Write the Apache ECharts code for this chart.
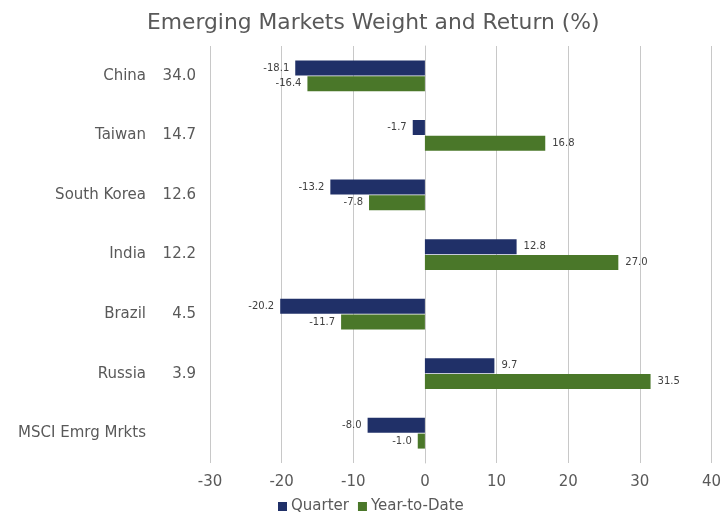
<!DOCTYPE html>
<html>
<head>
<meta charset="utf-8">
<script src="https://cdn.jsdelivr.net/npm/echarts@6/dist/echarts.min.js"></script>
<style>
  html, body { margin: 0; padding: 0; background: #fff; }
  #main { width: 724px; height: 517px; }
</style>
</head>
<body>
<div id="main"></div>
<script>
// categories, weights and returns
const countries = ['China', 'Taiwan', 'South Korea', 'India', 'Brazil', 'Russia', 'MSCI Emrg Mrkts'];
const weights = ['34.0', '14.7', '12.6', '12.2', '4.5', '3.9', ''];
const quarter = [-18.1, -1.7, -13.2, 12.8, -20.2, 9.7, -8.0];
const ytd = [-16.4, 16.8, -7.8, 27.0, -11.7, 31.5, -1.0];
const xTicks = [-30, 40, 10]; // min, max, step

const chartDom = document.getElementById('main');
const myChart = echarts.init(chartDom);

const font = '"DejaVu Sans", Verdana, sans-serif';
const gray = '#595959';

// label on the outer end of each bar
function withLabels(arr) {
  return arr.map(function (v) {
    return { value: v, label: { position: v < 0 ? 'left' : 'right', distance: v < 0 ? 6 : 7 } };
  });
}

const option = {
  animation: false,
  textStyle: { fontFamily: font },
  title: {
    text: 'Emerging Markets Weight and Return (%)',
    left: 142,
    top: 7,
    textStyle: { fontFamily: font, fontSize: 21.8, fontWeight: 'normal', color: gray }
  },
  legend: {
    bottom: -2,
    left: 273,
    itemWidth: 9,
    itemHeight: 9,
    itemGap: 9,
    icon: 'rect',
    textStyle: { fontFamily: font, fontSize: 15, color: gray, padding: [0, 0, 0, -1] },
    data: ['Quarter', 'Year-to-Date']
  },
  grid: { left: 210, right: 11, top: 46, bottom: 54, containLabel: false },
  xAxis: {
    type: 'value',
    min: xTicks[0],
    max: xTicks[1],
    interval: xTicks[2],
    axisLine: { show: false },
    axisTick: { show: false },
    splitLine: { lineStyle: { color: '#c8c8c8', width: 1 } },
    axisLabel: { fontFamily: font, fontSize: 15, color: gray, margin: 12 }
  },
  yAxis: {
    type: 'category',
    inverse: true,
    data: countries,
    axisLine: { lineStyle: { color: '#c8c8c8' } },
    axisTick: { show: false },
    axisLabel: {
      margin: 14,
      formatter: function (val, i) {
        return '{n|' + val + '}{w|' + weights[i] + '}';
      },
      rich: {
        n: { fontFamily: font, fontSize: 15, color: gray, align: 'right' },
        w: { fontFamily: font, fontSize: 15, color: gray, width: 50, align: 'right' }
      }
    }
  },
  series: [
    {
      name: 'Quarter',
      type: 'bar',
      data: withLabels(quarter),
      barWidth: 15,
      barGap: '5%',
      itemStyle: { color: '#203068' },
      label: {
        show: true,
        fontFamily: font,
        fontSize: 10,
        color: '#404040',
        formatter: function (p) { return p.value.toFixed(1); }
      }
    },
    {
      name: 'Year-to-Date',
      type: 'bar',
      data: withLabels(ytd),
      barWidth: 15,
      barGap: '5%',
      itemStyle: { color: '#4a7729' },
      label: {
        show: true,
        fontFamily: font,
        fontSize: 10,
        color: '#404040',
        formatter: function (p) { return p.value.toFixed(1); }
      }
    }
  ]
};

myChart.setOption(option);
</script>
</body>
</html>
